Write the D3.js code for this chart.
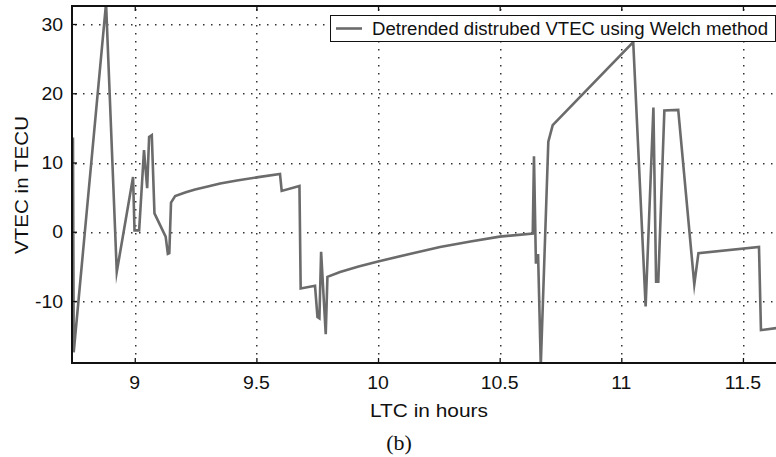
<!DOCTYPE html>
<html>
<head>
<meta charset="utf-8">
<script src="https://cdn.jsdelivr.net/npm/d3@7/dist/d3.min.js"></script>
<style>
  html, body { margin: 0; padding: 0; background: #fff; }
  svg { display: block; }
  text { font-family: "Liberation Sans", Arial, sans-serif; fill: #111; }
</style>
</head>
<body>
<svg id="chart" width="776" height="457"></svg>
<script>
// LTC time (hours) and detrended VTEC (TECU)
const ltcHours = [
  8.746, 8.749, 8.882, 8.926, 8.993, 8.999, 9.018, 9.038, 9.051, 9.059,
  9.070, 9.081, 9.127, 9.136, 9.142, 9.149, 9.166, 9.210, 9.248, 9.300,
  9.351, 9.420, 9.501, 9.597, 9.604, 9.677, 9.682, 9.741, 9.751, 9.759,
  9.766, 9.785, 9.792, 9.844, 9.920, 10.000, 10.130, 10.255, 10.380, 10.500,
  10.636, 10.641, 10.649, 10.652, 10.658, 10.669, 10.700, 10.718, 11.049, 11.100,
  11.132, 11.143, 11.152, 11.177, 11.234, 11.300, 11.317, 11.566, 11.574, 11.637
];
const vtecValues = [
  13.6, -17.4, 33.0, -5.8, 7.9, 0.2, 0.2, 11.8, 6.3, 13.7,
  13.95, 2.65, -0.7, -3.2, -3.1, 4.2, 5.15, 5.7, 6.1, 6.55,
  6.98, 7.4, 7.85, 8.33, 5.9, 6.6, -8.2, -7.8, -12.3, -12.5,
  -2.9, -14.8, -6.5, -5.8, -5.0, -4.3, -3.2, -2.2, -1.4, -0.7,
  -0.25, 10.9, -4.6, -3.4, -3.4, -19.3, 13.0, 15.4, 27.4, -10.8,
  17.95, -7.2, -7.2, 17.5, 17.6, -7.6, -3.1, -2.2, -14.2, -13.9
];

const xTicks = [9, 9.5, 10, 10.5, 11, 11.5];
const xTickLabels = ["9", "9.5", "10", "10.5", "11", "11.5"];
const yTicks = [-10, 0, 10, 20, 30];
const yTickLabels = ["-10", "0", "10", "20", "30"];

const seriesName = "Detrended distrubed VTEC using Welch method";
const xTitle = "LTC in hours";
const yTitle = "VTEC in TECU";
const caption = "(b)";

const svg = d3.select("#chart");
const plot = { left: 72, right: 777, top: 6, bottom: 363 };

const x = d3.scaleLinear().domain([8.742, 11.64]).range([plot.left, plot.right]);
const y = d3.scaleLinear().domain([-18.95, 32.6]).range([plot.bottom, plot.top]);

// dotted grid, drawn as rows of small squares
const grid = svg.append("g").attr("fill", "#333");
const dotStep = 8;
xTicks.forEach(t => {
  const gx = Math.round(x(t));
  grid.append("path")
    .attr("d", d3.range(plot.top + 3, plot.bottom - 2, dotStep)
      .map(v => `M${gx},${v}h1.5v1.5h-1.5z`).join(""));
});
yTicks.forEach(t => {
  const gy = Math.round(y(t));
  grid.append("path")
    .attr("d", d3.range(plot.left + 3, plot.right - 2, dotStep)
      .map(v => `M${v},${gy}h1.5v1.5h-1.5z`).join(""));
});

// data line, clipped to the plot box
svg.append("defs").append("clipPath").attr("id", "plotClip")
  .append("rect")
  .attr("x", plot.left).attr("y", plot.top)
  .attr("width", plot.right - plot.left).attr("height", plot.bottom - plot.top);

const pts = ltcHours.map((h, i) => [h, vtecValues[i]]);
svg.append("path")
  .datum(pts)
  .attr("clip-path", "url(#plotClip)")
  .attr("fill", "none")
  .attr("stroke", "#6b6b6b")
  .attr("stroke-width", 2.6)
  .attr("stroke-linejoin", "miter")
  .attr("stroke-miterlimit", 10)
  .attr("d", d3.line().x(d => x(d[0])).y(d => y(d[1])));

// inward tick marks from the axis generators
const tickLen = 5;
function styleAxis(g) {
  g.select(".domain").remove();
  g.selectAll("line").attr("stroke", "#111").attr("stroke-width", 1.3);
}
svg.append("g").attr("transform", `translate(0,${plot.bottom})`)
  .call(d3.axisBottom(x).tickValues(xTicks).tickSize(-tickLen).tickFormat("")).call(styleAxis);
svg.append("g").attr("transform", `translate(0,${plot.top})`)
  .call(d3.axisTop(x).tickValues(xTicks).tickSize(-tickLen).tickFormat("")).call(styleAxis);
svg.append("g").attr("transform", `translate(${plot.left},0)`)
  .call(d3.axisLeft(y).tickValues(yTicks).tickSize(-tickLen).tickFormat("")).call(styleAxis);

// frame: top, left and bottom edges
const frame = svg.append("g").attr("stroke", "#111").attr("stroke-width", 2).attr("fill", "none");
frame.append("line").attr("x1", plot.left - 1).attr("x2", plot.right).attr("y1", plot.top).attr("y2", plot.top);
frame.append("line").attr("x1", plot.left - 1).attr("x2", plot.right).attr("y1", plot.bottom).attr("y2", plot.bottom);
frame.append("line").attr("x1", plot.left).attr("x2", plot.left).attr("y1", plot.top).attr("y2", plot.bottom + 1);

// tick labels
const fs = 18, sx = 1.08;
svg.append("g").selectAll("text").data(xTicks).join("text")
  .attr("transform", d => `translate(${x(d)},389) scale(${sx},1)`)
  .attr("text-anchor", "middle").attr("font-size", fs)
  .text((d, i) => xTickLabels[i]);
svg.append("g").selectAll("text").data(yTicks).join("text")
  .attr("transform", d => `translate(63,${y(d) + 6.5}) scale(${sx},1)`)
  .attr("text-anchor", "end").attr("font-size", fs)
  .text((d, i) => yTickLabels[i]);

// axis titles
svg.append("text")
  .attr("x", 429).attr("y", 417)
  .attr("text-anchor", "middle").attr("font-size", 19)
  .attr("textLength", 118).attr("lengthAdjust", "spacingAndGlyphs")
  .text(xTitle);
svg.append("text")
  .attr("transform", `translate(28,185) rotate(-90)`)
  .attr("text-anchor", "middle").attr("font-size", 19)
  .attr("textLength", 138).attr("lengthAdjust", "spacingAndGlyphs")
  .text(yTitle);

// caption
svg.append("text")
  .attr("x", 399).attr("y", 450)
  .attr("text-anchor", "middle").attr("font-size", 22)
  .style("font-family", "'Liberation Serif', 'Times New Roman', serif")
  .text(caption);

// legend
const legend = svg.append("g");
legend.append("rect")
  .attr("x", 330.5).attr("y", 15.5).attr("width", 445).attr("height", 26)
  .attr("fill", "#fff").attr("stroke", "#111").attr("stroke-width", 1);
legend.append("line")
  .attr("x1", 336).attr("x2", 362).attr("y1", 28.5).attr("y2", 28.5)
  .attr("stroke", "#6b6b6b").attr("stroke-width", 2.6);
legend.append("text")
  .attr("x", 372).attr("y", 34.5).attr("font-size", 18)
  .attr("textLength", 396).attr("lengthAdjust", "spacingAndGlyphs")
  .text(seriesName);
</script>
</body>
</html>
